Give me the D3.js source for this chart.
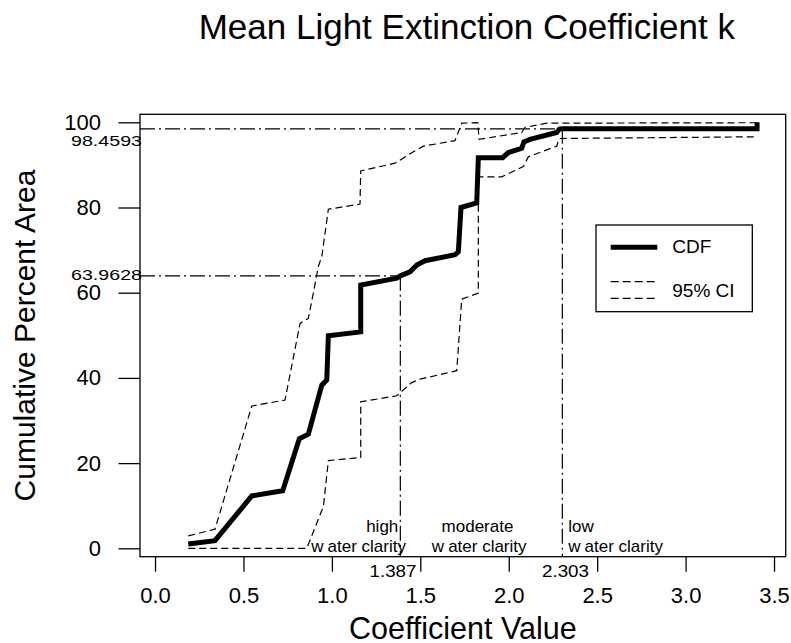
<!DOCTYPE html>
<html>
<head>
<meta charset="utf-8">
<script src="https://cdn.jsdelivr.net/npm/d3@7"></script>
<style>
  html, body { margin: 0; padding: 0; background: #fff; }
  svg { display: block; }
  text { font-family: "Liberation Sans", Arial, Helvetica, sans-serif; fill: #000; }
</style>
</head>
<body>
<svg id="chart" width="791" height="643"></svg>
<script>
// Empirical CDF of the mean light extinction coefficient k (percent of area)
const cdfX = [0.188, 0.339, 0.547, 0.722, 0.816, 0.867, 0.943, 0.971, 0.980, 1.163, 1.163, 1.367, 1.387, 1.442, 1.480, 1.527, 1.696, 1.715, 1.730, 1.819, 1.828, 1.966, 1.998, 2.073, 2.086, 2.120, 2.271, 2.286, 2.303, 3.404, 3.404];
const cdfY = [1.0, 1.8, 12.3, 13.5, 25.7, 26.8, 38.3, 39.5, 49.9, 50.8, 61.8, 63.4, 63.9628, 64.9, 66.5, 67.5, 68.9, 69.6, 80.0, 81.1, 91.7, 91.7, 92.9, 93.9, 95.4, 96.0, 97.6, 98.4, 98.4593, 98.4593, 100];

// Upper 95% confidence bound
const upperX = [0.188, 0.339, 0.547, 0.735, 0.820, 0.867, 0.895, 0.923, 0.943, 0.980, 1.159, 1.163, 1.357, 1.461, 1.517, 1.696, 1.734, 1.825, 1.832, 2.073, 2.092, 2.215, 3.404];
const upperY = [2.9, 4.5, 33.4, 34.8, 52.8, 54.0, 59.9, 66.1, 68.5, 79.6, 80.8, 88.6, 90.4, 93.1, 94.4, 95.7, 99.8, 99.9, 96.0, 97.6, 98.8, 99.8, 99.9];

// Lower 95% confidence bound
const lowerX = [0.188, 0.858, 0.952, 0.980, 1.163, 1.163, 1.367, 1.451, 1.498, 1.706, 1.734, 1.828, 1.828, 1.960, 2.082, 2.111, 2.271, 2.286, 3.392];
const lowerY = [0.0, 0.0, 9.8, 20.6, 21.3, 34.4, 35.8, 38.9, 39.7, 41.7, 58.5, 59.9, 87.2, 87.2, 89.6, 91.9, 94.4, 96.2, 96.6];

// Clarity class breaks
const breakX = [1.387, 2.303];
const breakY = [63.9628, 98.4593];
const breakXLabels = ["1.387", "2.303"];
const breakYLabels = ["63.9628", "98.4593"];

const xTicks = [0, 0.5, 1.0, 1.5, 2.0, 2.5, 3.0, 3.5];
const yTicks = [0, 20, 40, 60, 80, 100];

const svg = d3.select("#chart");
const FONT = '"Liberation Sans", Arial, Helvetica, sans-serif';

const plot = { left: 140, right: 785.7, top: 114.3, bottom: 556.7 };
const midX = (plot.left + plot.right) / 2;
const midY = (plot.top + plot.bottom) / 2;

const x = d3.scaleLinear().domain([-0.085, 3.566]).range([plot.left, plot.right]);
const y = d3.scaleLinear().domain([-1.97, 101.88]).range([plot.bottom, plot.top]);

const toPts = (xs, ys) => xs.map((v, i) => [v, ys[i]]);
const line = d3.line().x(d => x(d[0])).y(d => y(d[1]));

// Title
svg.append("text")
  .attr("x", midX + 4).attr("y", 39)
  .attr("text-anchor", "middle")
  .style("font-size", "35px")
  .text("Mean Light Extinction Coefficient k");

// Axes
const yAxis = d3.axisLeft(y).tickValues(yTicks).tickSize(21.5).tickPadding(17.5).tickFormat(d3.format("d"));
const gy = svg.append("g").attr("transform", `translate(${plot.left},0)`).call(yAxis);
gy.select(".domain").remove();
gy.selectAll("line").attr("stroke", "#000").attr("stroke-width", 1.3);
gy.selectAll("text").style("font-size", "22px").style("font-family", FONT);

const xAxis = d3.axisBottom(x).tickValues(xTicks).tickSize(15).tickPadding(16).tickFormat(d3.format(".1f"));
const gx = svg.append("g").attr("transform", `translate(0,${plot.bottom})`).call(xAxis);
gx.select(".domain").remove();
gx.selectAll("line").attr("stroke", "#000").attr("stroke-width", 1.3);
gx.selectAll("text").style("font-size", "22px").style("font-family", FONT);

// Axis titles
svg.append("text")
  .attr("x", midX).attr("y", 638.5)
  .attr("text-anchor", "middle")
  .style("font-size", "30.5px")
  .text("Coefficient Value");

svg.append("text")
  .attr("transform", `translate(35,${midY}) rotate(-90)`)
  .attr("text-anchor", "middle")
  .style("font-size", "30px")
  .text("Cumulative Percent Area");

// Reference lines at class breaks (dash-dot)
const refDash = "15,4,2,4";
breakX.forEach((bx, i) => {
  svg.append("line")
    .attr("x1", x(x.domain()[0])).attr("x2", x(bx))
    .attr("y1", y(breakY[i])).attr("y2", y(breakY[i]))
    .attr("stroke", "#000").attr("stroke-width", 1.2).attr("stroke-dasharray", refDash);
  svg.append("line")
    .attr("x1", x(bx)).attr("x2", x(bx))
    .attr("y1", y(breakY[i])).attr("y2", y(y.domain()[0]))
    .attr("stroke", "#000").attr("stroke-width", 1.2).attr("stroke-dasharray", refDash);
});

// Confidence bounds
const ciDash = "7,4";
[toPts(upperX, upperY), toPts(lowerX, lowerY)].forEach(pts => {
  svg.append("path")
    .attr("d", line(pts))
    .attr("fill", "none").attr("stroke", "#000")
    .attr("stroke-width", 1.2).attr("stroke-dasharray", ciDash);
});

// CDF
svg.append("path")
  .attr("d", line(toPts(cdfX, cdfY)))
  .attr("fill", "none").attr("stroke", "#000")
  .attr("stroke-width", 5).attr("stroke-linejoin", "miter").attr("stroke-miterlimit", 4);

// Plot frame
svg.append("rect")
  .attr("x", plot.left).attr("y", plot.top)
  .attr("width", plot.right - plot.left).attr("height", plot.bottom - plot.top)
  .attr("fill", "none").attr("stroke", "#000").attr("stroke-width", 1.3);

// Break value labels on the y axis
const yLabelBase = [279.5, 146];
breakYLabels.forEach((t, i) => {
  svg.append("text")
    .attr("x", 142).attr("y", yLabelBase[i])
    .attr("text-anchor", "end")
    .attr("textLength", 71).attr("lengthAdjust", "spacingAndGlyphs")
    .style("font-size", "15px")
    .text(t);
});

// Break value labels under the x axis
const xLabelLeft = [369.5, 542];
breakXLabels.forEach((t, i) => {
  svg.append("text")
    .attr("x", xLabelLeft[i]).attr("y", 577)
    .attr("textLength", 47).attr("lengthAdjust", "spacingAndGlyphs")
    .style("font-size", "16.5px")
    .text(t);
});

// Clarity class labels
function clarity(xPos, anchor, yPos) {
  const t = svg.append("text")
    .attr("x", xPos).attr("y", yPos)
    .attr("text-anchor", anchor)
    .style("font-size", "17px");
  t.append("tspan").text("w");
  t.append("tspan").attr("dx", 4).text("ater clarity");
}
svg.append("text").attr("x", 398.3).attr("y", 531.7).attr("text-anchor", "end").style("font-size", "17px").text("high");
clarity(406, "end", 551.7);
svg.append("text").attr("x", 477.5).attr("y", 531.7).attr("text-anchor", "middle").style("font-size", "17px").text("moderate");
clarity(479.2, "middle", 551.7);
svg.append("text").attr("x", 568.3).attr("y", 531.7).attr("text-anchor", "start").style("font-size", "17px").text("low");
clarity(568.3, "start", 551.7);

// Legend
const lg = svg.append("g");
lg.append("rect")
  .attr("x", 596).attr("y", 225).attr("width", 156.3).attr("height", 86.7)
  .attr("fill", "#fff").attr("stroke", "#000").attr("stroke-width", 1.3);
lg.append("line").attr("x1", 610.7).attr("x2", 657.3).attr("y1", 247.3).attr("y2", 247.3)
  .attr("stroke", "#000").attr("stroke-width", 5);
lg.append("text").attr("x", 672.3).attr("y", 253.3).style("font-size", "19px").text("CDF");
[281.7, 298.3].forEach(ly => {
  lg.append("line").attr("x1", 610.7).attr("x2", 657.3).attr("y1", ly).attr("y2", ly)
    .attr("stroke", "#000").attr("stroke-width", 1.2).attr("stroke-dasharray", "8,4");
});
lg.append("text").attr("x", 672.3).attr("y", 296.7).style("font-size", "19px").text("95% CI");
</script>
</body>
</html>
